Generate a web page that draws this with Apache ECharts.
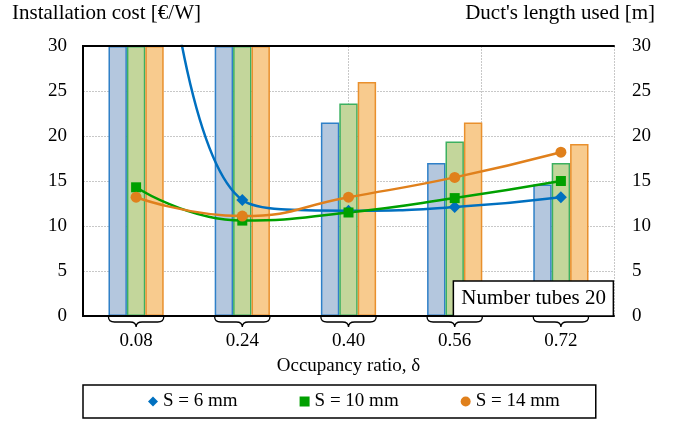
<!DOCTYPE html>
<html>
<head>
<meta charset="utf-8">
<script src="https://cdn.jsdelivr.net/npm/echarts@6/dist/echarts.min.js"></script>
<style>html,body{margin:0;padding:0;background:#fff}#c{width:673px;height:421px}</style>
</head>
<body>
<div id="c"></div>
<script>
// ---- data ----
const categories = ['0.08', '0.24', '0.40', '0.56', '0.72'];
const ratioValues = [0.08, 0.24, 0.40, 0.56, 0.72];
// Installation cost [€/W] (bars, left axis) – first two groups run past the top of the axis
const costS6  = [30, 30, 21.5, 17.0, 14.6];
const costS10 = [30, 30, 23.6, 19.4, 17.0];
const costS14 = [30, 30, 26.0, 21.5, 19.1];
// Duct's length used [m] (lines, right axis) – first S=6 point lies far above the axis (estimated)
const ductS6  = [85, 12.9, 11.7, 12.1, 13.2];
const ductS10 = [14.3, 10.6, 11.5, 13.1, 15.0];
const ductS14 = [13.2, 11.1, 13.2, 15.4, 18.2];
const yTicks = [0, 5, 10, 15, 20, 25, 30];
const seriesNames = ['S = 6 mm', 'S = 10 mm', 'S = 14 mm'];

const FONT = "'Liberation Serif','Times New Roman',serif";
const chart = echarts.init(document.getElementById('c'), null, {renderer: 'canvas'});

function pair(xs, ys) { return xs.map((x, i) => [x, ys[i]]); }
function barSeries(name, data, fill, stroke) {
  return {
    name: name, type: 'bar', xAxisIndex: 0, yAxisIndex: 0, data: data,
    barGap: '0%', barCategoryGap: '48%', z: 2,
    itemStyle: {color: fill, borderColor: stroke, borderWidth: 1.5}
  };
}
function lineSeries(name, data, color, symbol, size) {
  return {
    name: name, type: 'line', xAxisIndex: 1, yAxisIndex: 1, data: data,
    smooth: 0.5, symbol: symbol, symbolSize: size, showSymbol: true, clip: true, z: 4,
    lineStyle: {color: color, width: 2.5}, itemStyle: {color: color}
  };
}

const option = {
  animation: false,
  textStyle: {fontFamily: FONT},
  grid: {left: 83, right: 59, top: 46, bottom: 105, containLabel: false},
  title: {
    text: 'Number tubes 20', right: 59, bottom: 105, z: 10,
    backgroundColor: '#fff', borderColor: '#000', borderWidth: 1.5, padding: [7, 8],
    textStyle: {fontFamily: FONT, fontSize: 21, fontWeight: 'normal', color: '#000'}
  },
  legend: {
    data: [
      {name: seriesNames[0], icon: 'diamond'},
      {name: seriesNames[1], icon: 'rect'},
      {name: seriesNames[2], icon: 'circle'}
    ],
    left: 83, top: 385, padding: [7, 36, 7, 65], itemGap: 62, itemWidth: 10, itemHeight: 10,
    borderColor: '#000', borderWidth: 1.5,
    textStyle: {fontFamily: FONT, fontSize: 19, color: '#000'}
  },
  xAxis: [
    {
      type: 'category', data: categories, position: 'bottom', z: 5,
      axisLine: {show: true, lineStyle: {color: '#000', width: 2}},
      axisTick: {show: false},
      axisLabel: {margin: 16, fontFamily: FONT, fontSize: 19, color: '#000'},
      splitLine: {show: false},
      name: 'Occupancy ratio, δ', nameLocation: 'middle', nameGap: 41,
      nameTextStyle: {fontFamily: FONT, fontSize: 19, color: '#000'}
    },
    {
      type: 'value', min: 0, max: 0.8, interval: 0.2, position: 'bottom',
      axisLine: {show: false}, axisTick: {show: false}, axisLabel: {show: false},
      splitLine: {show: true, lineStyle: {color: '#c8c8c8', type: [2, 1], width: 1}}
    },
    {
      type: 'value', min: 0, max: 1, position: 'top', z: 5,
      axisLine: {show: true, lineStyle: {color: '#000', width: 2}},
      axisTick: {show: false}, axisLabel: {show: false}, splitLine: {show: false}
    }
  ],
  yAxis: [
    {
      type: 'value', min: yTicks[0], max: yTicks[yTicks.length - 1], interval: 5, position: 'left',
      axisLine: {show: true, lineStyle: {color: '#000', width: 2}},
      axisTick: {show: false},
      axisLabel: {margin: 16, fontFamily: FONT, fontSize: 19, color: '#000'},
      splitLine: {show: true, lineStyle: {color: '#c8c8c8', type: [2, 1], width: 1}}
    },
    {
      type: 'value', min: yTicks[0], max: yTicks[yTicks.length - 1], interval: 5, position: 'right', z: 5,
      axisLine: {show: true, lineStyle: {color: '#000', width: 2}},
      axisTick: {show: false},
      axisLabel: {margin: 18, fontFamily: FONT, fontSize: 19, color: '#000'},
      splitLine: {show: false}
    }
  ],
  graphic: [
    {type: 'text', left: 12, top: 3, style: {text: 'Installation cost [€/W]', font: '21px ' + FONT, fill: '#000'}},
    {type: 'text', right: 18, top: 3, style: {text: "Duct's length used [m]", font: '21px ' + FONT, fill: '#000'}}
  ],
  series: [
    barSeries('cost6', costS6, '#b4c7de', '#2f80c8'),
    barSeries('cost10', costS10, '#c3d69b', '#3cb060'),
    barSeries('cost14', costS14, '#f8cb8e', '#e9902d'),
    lineSeries(seriesNames[0], pair(ratioValues, ductS6), '#0070c0', 'diamond', 12),
    lineSeries(seriesNames[1], pair(ratioValues, ductS10), '#00a000', 'rect', 10),
    lineSeries(seriesNames[2], pair(ratioValues, ductS14), '#e0801c', 'circle', 11),
    {
      // curly braces under each category group
      type: 'custom', xAxisIndex: 0, yAxisIndex: 0, clip: false, silent: true, z: 6,
      data: categories.map((c, i) => [i, 0]),
      renderItem: function (params, api) {
        const p = api.coord([api.value(0), 0]);
        const band = api.size([1, 0])[0];
        const hw = band * 0.26;
        const cx = p[0], y0 = p[1] + 1, y1 = p[1] + 6, yt = p[1] + 11;
        const L = cx - hw, R = cx + hw, r = 6;
        const d = 'M' + L + ' ' + y0 +
          ' Q' + L + ' ' + y1 + ' ' + (L + r) + ' ' + y1 +
          ' L' + (cx - r) + ' ' + y1 +
          ' Q' + cx + ' ' + y1 + ' ' + cx + ' ' + yt +
          ' Q' + cx + ' ' + y1 + ' ' + (cx + r) + ' ' + y1 +
          ' L' + (R - r) + ' ' + y1 +
          ' Q' + R + ' ' + y1 + ' ' + R + ' ' + y0;
        return {type: 'path', shape: {pathData: d}, style: {stroke: '#000', lineWidth: 1.3, fill: null}};
      }
    }
  ]
};
chart.setOption(option);
</script>
</body>
</html>
